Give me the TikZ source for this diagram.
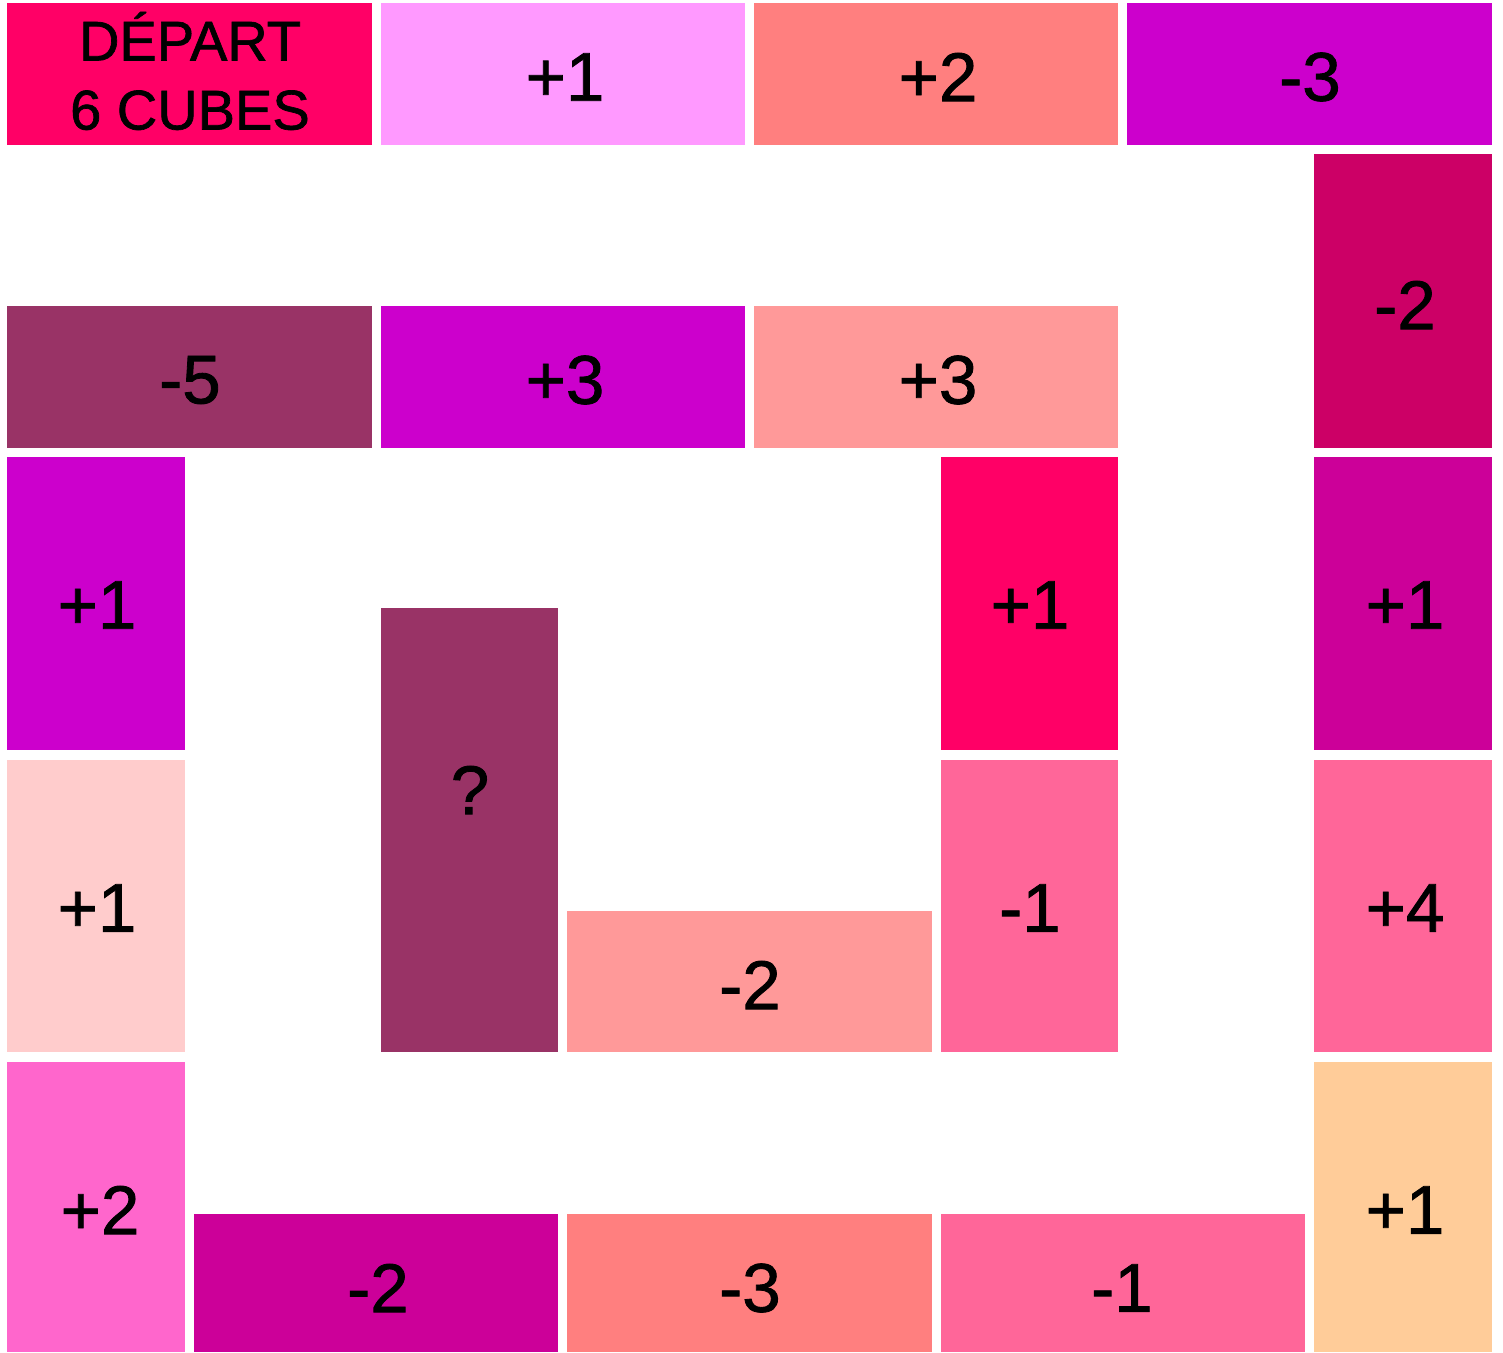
\documentclass[tikz,border=0pt]{standalone}
\usepackage{fontspec}
\setmainfont{Liberation Sans}
\newfontfamily\tilefont[FakeBold=1.2]{Liberation Sans}
\definecolor{cA}{HTML}{FF0066}
\definecolor{cB}{HTML}{FF99FF}
\definecolor{cC}{HTML}{FF7F7F}
\definecolor{cD}{HTML}{CC00CC}
\definecolor{cE}{HTML}{CC0066}
\definecolor{cF}{HTML}{993366}
\definecolor{cG}{HTML}{FF9999}
\definecolor{cH}{HTML}{CC0099}
\definecolor{cI}{HTML}{FFCCCC}
\definecolor{cJ}{HTML}{FF6699}
\definecolor{cK}{HTML}{FF66CC}
\definecolor{cL}{HTML}{FFCC99}
\tikzset{
  lbl/.style={inner sep=0pt, text=black, font=\tilefont\fontsize{69}{74}\selectfont},
  startlbl/.style={inner sep=0pt, text=black, align=center, font=\tilefont\fontsize{56}{69}\selectfont}
}
\newcommand{\tile}[8]{%
  \fill[#6] (#2,#3) rectangle (#4,#5);
  \node[lbl] (#1) at (#7) {#8};}
\begin{document}
\begin{tikzpicture}[x=1pt,y=-1pt]
\useasboundingbox (0,0) rectangle (1503,1352);
\fill[white] (0,0) rectangle (1503,1352);
% row 1
\fill[cA] (7,3) rectangle (372,145);
\node[startlbl] (start) at (190,71) {DÉPART\\6 CUBES};
\tile{t1}{381}{3}{745}{145}{cB}{565,77}{+1}
\tile{t2}{754}{3}{1118}{145}{cC}{938,77}{+2}
\tile{t3}{1127}{3}{1492}{145}{cD}{1310,77}{-3}
\tile{t4}{1314}{154}{1492}{448}{cE}{1405,305}{-2}
% row 2
\tile{t5}{7}{306}{372}{448}{cF}{190,380}{-5}
\tile{t6}{381}{306}{745}{448}{cD}{565,380}{+3}
\tile{t7}{754}{306}{1118}{448}{cG}{938,380}{+3}
% row 3
\tile{t8}{7}{457}{185}{750}{cD}{97,605}{+1}
\tile{t9}{381}{608}{558}{1052}{cF}{470,790}{?}
\tile{t10}{941}{457}{1118}{750}{cA}{1030,605}{+1}
\tile{t11}{1314}{457}{1492}{750}{cH}{1405,605}{+1}
% row 4
\tile{t12}{7}{760}{185}{1052}{cI}{97,908}{+1}
\tile{t13}{567}{911}{932}{1052}{cG}{750,985}{-2}
\tile{t14}{941}{760}{1118}{1052}{cJ}{1030,908}{-1}
\tile{t15}{1314}{760}{1492}{1052}{cJ}{1405,908}{+4}
% row 5
\tile{t16}{7}{1062}{185}{1352}{cK}{100,1210}{+2}
\tile{t17}{194}{1214}{558}{1352}{cH}{378,1288}{-2}
\tile{t18}{567}{1214}{932}{1352}{cC}{750,1288}{-3}
\tile{t19}{941}{1214}{1305}{1352}{cJ}{1122,1288}{-1}
\tile{t20}{1314}{1062}{1492}{1352}{cL}{1405,1210}{+1}
\end{tikzpicture}
\end{document}
